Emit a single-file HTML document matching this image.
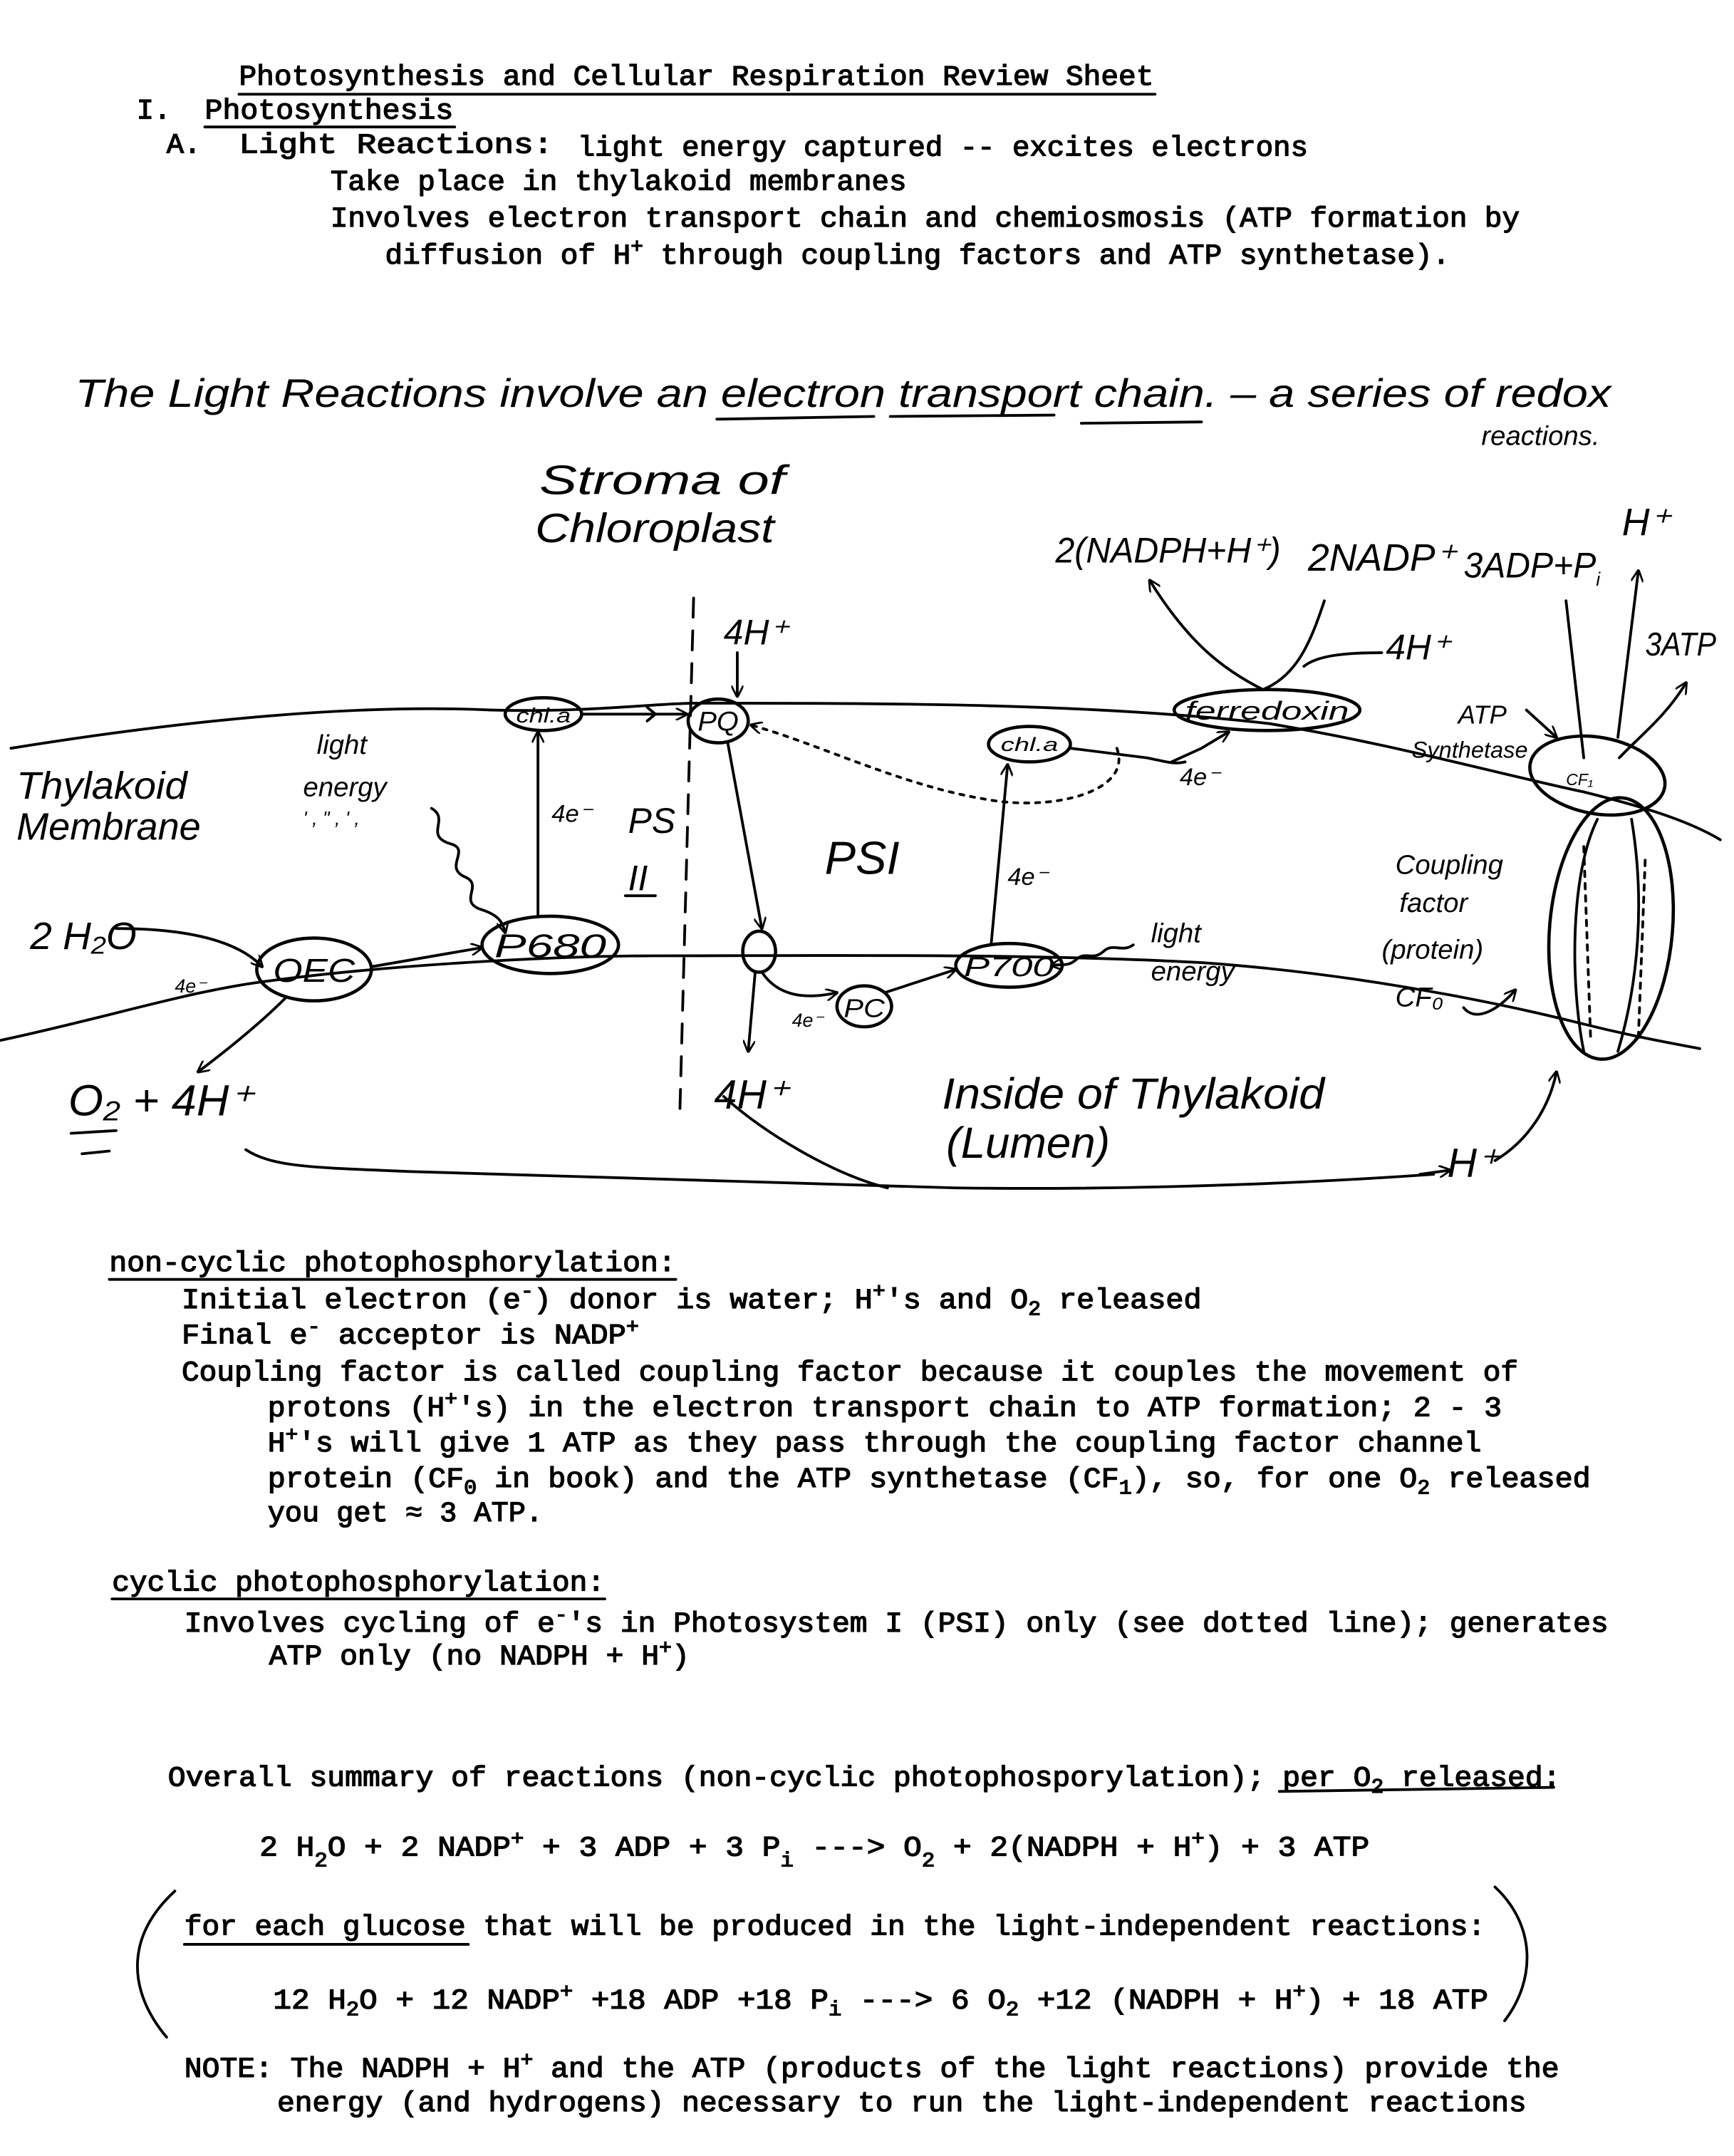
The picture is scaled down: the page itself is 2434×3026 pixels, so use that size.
<!DOCTYPE html>
<html><head><meta charset="utf-8"><style>
html,body{margin:0;padding:0;background:#fff}
svg{display:block}
.t{font-family:"Liberation Mono",monospace;font-size:21px;fill:#000;stroke:#000;stroke-width:0.7}
.h{font-family:"Liberation Sans",sans-serif;fill:#000;font-style:italic}
.l{fill:none;stroke:#000;stroke-width:2;stroke-linecap:round}
.n{fill:none;stroke:#000;stroke-width:2.4}
</style></head><body>
<svg width="2434" height="3026" viewBox="0 0 1270 1579" xmlns="http://www.w3.org/2000/svg">
<defs><marker id="a" viewBox="0 0 10 10" refX="9" refY="5" markerWidth="9" markerHeight="9" orient="auto" markerUnits="userSpaceOnUse"><path d="M0,0 L10,5 L0,10" fill="none" stroke="#000" stroke-width="1.6"/></marker></defs>

<text class="t" x="175" y="62" textLength="670" lengthAdjust="spacingAndGlyphs">Photosynthesis and Cellular Respiration Review Sheet</text>
<line class="l" x1="175" y1="69" x2="846" y2="69" stroke-width="1.6"/>
<text class="t" x="100" y="87">I.</text>
<text class="t" x="150" y="87" textLength="182" lengthAdjust="spacingAndGlyphs">Photosynthesis</text>
<line class="l" x1="150" y1="93" x2="333" y2="93" stroke-width="1.6"/>
<text class="t" x="122" y="112">A.</text>
<text class="t" x="175" y="112" textLength="230" lengthAdjust="spacingAndGlyphs">Light Reactions:</text>
<text class="t" x="423" y="114" textLength="535" lengthAdjust="spacingAndGlyphs">light energy captured -- excites electrons</text>
<text class="t" x="242" y="139" textLength="422" lengthAdjust="spacingAndGlyphs">Take place in thylakoid membranes</text>
<text class="t" x="242" y="166" textLength="871" lengthAdjust="spacingAndGlyphs">Involves electron transport chain and chemiosmosis (ATP formation by</text>
<text class="t" x="282" y="193" textLength="780" lengthAdjust="spacingAndGlyphs">diffusion of H<tspan font-size="15" dy="-8">+</tspan><tspan dy="8"> through coupling factors and ATP synthetase).</tspan></text>

<text class="h" x="55" y="298" font-size="29" textLength="1125" lengthAdjust="spacingAndGlyphs">The Light Reactions involve an electron transport chain. – a series of redox</text>
<path class="l" d="M525,307 L640,305 M652,305 L772,304 M792,310 L880,309"/>
<text class="h" x="1085" y="326" font-size="20">reactions.</text>
<text class="h" x="395" y="362" font-size="30" textLength="180" lengthAdjust="spacingAndGlyphs">Stroma  of</text>
<text class="h" x="392" y="397" font-size="30" textLength="175" lengthAdjust="spacingAndGlyphs">Chloroplast</text>
<text class="h" x="773" y="412" font-size="26" textLength="165" lengthAdjust="spacingAndGlyphs">2(NADPH+H⁺)</text>
<text class="h" x="958" y="418" font-size="28" textLength="108" lengthAdjust="spacingAndGlyphs">2NADP⁺</text>
<text class="h" x="1072" y="423" font-size="26" textLength="100" lengthAdjust="spacingAndGlyphs">3ADP+P<tspan font-size="14" dy="6">i</tspan></text>
<text class="h" x="1188" y="392" font-size="28">H⁺</text>
<text class="h" x="530" y="472" font-size="26">4H⁺</text>
<text class="h" x="1015" y="483" font-size="26">4H⁺</text>
<text class="h" x="1205" y="480" font-size="24" textLength="52" lengthAdjust="spacingAndGlyphs">3ATP</text>

<path class="l" stroke-width="2.6" d="M8,548 C120,530 250,515 360,520 C430,522 480,515 510,515 C650,515 800,515 930,530 C1020,545 1090,565 1160,580 C1200,590 1235,600 1260,615"/>
<path class="l" stroke-width="2.6" d="M0,762 C80,745 140,725 200,718 C300,705 420,700 480,700 C600,700 750,698 880,705 C980,712 1080,730 1160,750 C1200,760 1230,765 1245,768"/>

<line class="l" x1="508" y1="438" x2="498" y2="812" stroke-width="1.5" stroke-dasharray="14,10"/>

<ellipse class="n" cx="230" cy="710" rx="42" ry="23"/>
<ellipse class="n" cx="403" cy="692" rx="50" ry="21"/>
<ellipse class="n" cx="398" cy="523" rx="28" ry="12"/>
<ellipse class="n" cx="526" cy="528" rx="22" ry="16"/>
<ellipse class="n" cx="556" cy="697" rx="12" ry="15"/>
<ellipse class="n" cx="633" cy="737" rx="20" ry="15"/>
<ellipse class="n" cx="739" cy="707" rx="39" ry="16"/>
<ellipse class="n" cx="754" cy="545" rx="30" ry="13"/>
<ellipse class="n" cx="928" cy="520" rx="68" ry="15"/>
<ellipse class="n" cx="1170" cy="568" rx="50" ry="28" transform="rotate(10 1170 568)"/>
<ellipse class="n" cx="1180" cy="680" rx="45" ry="96" transform="rotate(5 1180 680)"/>
<path class="l" stroke-width="1.2" d="M1170,600 C1150,640 1150,720 1160,770 M1195,600 C1205,660 1200,720 1185,770"/>
<path class="l" stroke-width="1.2" stroke-dasharray="4,5" d="M1160,620 L1165,760 M1205,630 L1200,760"/>

<g class="h">
<text x="200" y="719" font-size="24" textLength="60" lengthAdjust="spacingAndGlyphs">OEC</text>
<text x="362" y="701" font-size="24" textLength="82" lengthAdjust="spacingAndGlyphs">P680</text>
<text x="378" y="529" font-size="15" textLength="40" lengthAdjust="spacingAndGlyphs">chl.a</text>
<text x="511" y="535" font-size="20" textLength="30" lengthAdjust="spacingAndGlyphs">PQ</text>
<text x="618" y="745" font-size="19" textLength="30" lengthAdjust="spacingAndGlyphs">PC</text>
<text x="706" y="715" font-size="20" textLength="66" lengthAdjust="spacingAndGlyphs">P700</text>
<text x="733" y="550" font-size="14" textLength="42" lengthAdjust="spacingAndGlyphs">chl.a</text>
<text x="868" y="527" font-size="19" textLength="120" lengthAdjust="spacingAndGlyphs">ferredoxin</text>
<text x="1147" y="575" font-size="12">CF₁</text>
</g>

<path class="l" d="M85,680 C140,680 175,690 192,708" marker-end="url(#a)"/>
<path class="l" d="M210,730 C190,750 165,770 145,785" marker-end="url(#a)"/>
<path class="l" d="M272,708 L353,694" marker-end="url(#a)"/>
<path class="l" d="M316,592 C330,600 310,612 330,618 C345,622 325,635 340,642 C355,648 335,660 352,666 C365,670 368,675 370,683" marker-end="url(#a)"/>
<line class="l" x1="394" y1="671" x2="394" y2="536" marker-end="url(#a)"/>
<line class="l" x1="427" y1="523" x2="503" y2="523" marker-end="url(#a)"/>
<path class="l" d="M480,523 l-6,-5 M480,523 l-6,5"/>
<line class="l" x1="533" y1="544" x2="558" y2="680" marker-end="url(#a)"/>
<path class="l" d="M558,712 C570,730 590,732 613,727" marker-end="url(#a)"/>
<line class="l" x1="553" y1="713" x2="548" y2="770" marker-end="url(#a)"/>
<path class="l" d="M648,727 L700,710" marker-end="url(#a)"/>
<line class="l" x1="726" y1="691" x2="738" y2="560" marker-end="url(#a)"/>
<path class="l" d="M784,548 L840,555 C855,558 860,560 868,558"/>
<path class="l" d="M858,558 L880,548 L900,536" marker-end="url(#a)"/>
<path class="l" stroke-dasharray="3,5" d="M818,548 C830,580 770,595 720,585 C660,575 600,545 550,531" marker-end="url(#a)"/>
<path class="l" d="M970,440 C960,470 950,495 925,505 C895,490 870,470 842,425" marker-end="url(#a)"/>
<path class="l" d="M955,488 C965,480 985,478 1012,478"/>
<path class="l" d="M830,692 C822,698 815,690 808,697 C800,704 795,696 788,703 C782,708 778,706 770,707" marker-end="url(#a)"/>
<line class="l" x1="540" y1="478" x2="540" y2="510" marker-end="url(#a)"/>
<path class="l" d="M1147,440 L1160,555"/>
<path class="l" d="M1186,555 C1200,540 1220,525 1235,500" marker-end="url(#a)"/>
<path class="l" d="M1185,540 L1200,418" marker-end="url(#a)"/>
<path class="l" d="M1118,520 L1140,540" marker-end="url(#a)"/>
<path class="l" d="M1072,738 C1080,748 1095,742 1110,725" marker-end="url(#a)"/>
<path class="l" d="M180,842 C200,855 230,855 300,858 C450,862 600,868 700,870 C850,872 980,865 1050,860" />
<path class="l" d="M530,803 C560,830 610,860 650,870"/>
<path class="l" d="M1095,850 C1120,835 1135,810 1140,785" marker-end="url(#a)"/>
<path class="l" d="M1040,860 L1062,857" marker-end="url(#a)"/>

<g class="h">
<text x="12" y="585" font-size="28" textLength="125" lengthAdjust="spacingAndGlyphs">Thylakoid</text>
<text x="12" y="615" font-size="28" textLength="135" lengthAdjust="spacingAndGlyphs">Membrane</text>
<text x="22" y="695" font-size="28" textLength="78" lengthAdjust="spacingAndGlyphs">2 H₂O</text>
<text x="128" y="727" font-size="14">4e⁻</text>
<text x="232" y="552" font-size="20">light</text>
<text x="222" y="583" font-size="20">energy</text>
<text x="222" y="604" font-size="14">' , " , ' ,</text>
<text x="404" y="602" font-size="18">4e⁻</text>
<text x="460" y="610" font-size="26">PS</text>
<text x="460" y="652" font-size="26">II</text>
<line class="l" x1="458" y1="656" x2="480" y2="656"/>
<text x="604" y="640" font-size="34">PSI</text>
<text x="738" y="648" font-size="18">4e⁻</text>
<text x="864" y="575" font-size="18">4e⁻</text>
<text x="580" y="752" font-size="14">4e⁻</text>
<text x="843" y="690" font-size="20">light</text>
<text x="843" y="718" font-size="20">energy</text>
<text x="1022" y="640" font-size="20">Coupling</text>
<text x="1025" y="668" font-size="20">factor</text>
<text x="1012" y="702" font-size="20">(protein)</text>
<text x="1022" y="737" font-size="20">CF₀</text>
<text x="1068" y="530" font-size="19">ATP</text>
<text x="1034" y="555" font-size="17">Synthetase</text>
<text x="50" y="817" font-size="32" textLength="135" lengthAdjust="spacingAndGlyphs">O₂ + 4H⁺</text>
<path class="l" d="M52,830 L85,828 M60,845 L80,843"/>
<text x="523" y="812" font-size="30">4H⁺</text>
<text x="690" y="812" font-size="32" textLength="280" lengthAdjust="spacingAndGlyphs">Inside of Thylakoid</text>
<text x="693" y="848" font-size="32" textLength="120" lengthAdjust="spacingAndGlyphs">(Lumen)</text>
<text x="1060" y="862" font-size="30">H⁺</text>
</g>

<text class="t" x="80" y="931" textLength="415" lengthAdjust="spacingAndGlyphs">non-cyclic photophosphorylation:</text>
<line class="l" x1="80" y1="937" x2="495" y2="937" stroke-width="1.6"/>
<text class="t" x="133" y="958" textLength="747" lengthAdjust="spacingAndGlyphs">Initial electron (e<tspan font-size="15" dy="-8">-</tspan><tspan dy="8">) donor is water; H</tspan><tspan font-size="15" dy="-8">+</tspan><tspan dy="8">'s and O</tspan><tspan font-size="15" dy="5">2</tspan><tspan dy="-5"> released</tspan></text>
<text class="t" x="133" y="984" textLength="335" lengthAdjust="spacingAndGlyphs">Final e<tspan font-size="15" dy="-8">-</tspan><tspan dy="8"> acceptor is NADP</tspan><tspan font-size="15" dy="-8">+</tspan></text>
<text class="t" x="133" y="1011" textLength="979" lengthAdjust="spacingAndGlyphs">Coupling factor is called coupling factor because it couples the movement of</text>
<text class="t" x="196" y="1037" textLength="904" lengthAdjust="spacingAndGlyphs">protons (H<tspan font-size="15" dy="-8">+</tspan><tspan dy="8">'s) in the electron transport chain to ATP formation; 2 - 3</tspan></text>
<text class="t" x="196" y="1063" textLength="889" lengthAdjust="spacingAndGlyphs">H<tspan font-size="15" dy="-8">+</tspan><tspan dy="8">'s will give 1 ATP as they pass through the coupling factor channel</tspan></text>
<text class="t" x="196" y="1089" textLength="969" lengthAdjust="spacingAndGlyphs">protein (CF<tspan font-size="15" dy="5">0</tspan><tspan dy="-5"> in book) and the ATP synthetase (CF</tspan><tspan font-size="15" dy="5">1</tspan><tspan dy="-5">), so, for one O</tspan><tspan font-size="15" dy="5">2</tspan><tspan dy="-5"> released</tspan></text>
<text class="t" x="196" y="1114">you get  ≈  3 ATP.</text>

<text class="t" x="82" y="1165" textLength="361" lengthAdjust="spacingAndGlyphs">cyclic photophosphorylation:</text>
<line class="l" x1="82" y1="1171" x2="443" y2="1171" stroke-width="1.6"/>
<text class="t" x="135" y="1195" textLength="1043" lengthAdjust="spacingAndGlyphs">Involves cycling of e<tspan font-size="15" dy="-8">-</tspan><tspan dy="8">'s in Photosystem I (PSI) only (see dotted line); generates</tspan></text>
<text class="t" x="197" y="1219" textLength="308" lengthAdjust="spacingAndGlyphs">ATP only (no NADPH + H<tspan font-size="15" dy="-8">+</tspan><tspan dy="8">)</tspan></text>

<text class="t" x="123" y="1308" textLength="1020" lengthAdjust="spacingAndGlyphs">Overall summary of reactions (non-cyclic photophosporylation); per O<tspan font-size="15" dy="5">2</tspan><tspan dy="-5"> released:</tspan></text>
<line class="l" x1="937" y1="1312" x2="1138" y2="1309" stroke-width="1.6"/>
<text class="t" x="190" y="1359" textLength="813" lengthAdjust="spacingAndGlyphs">2 H<tspan font-size="15" dy="8">2</tspan><tspan dy="-8">O + 2 NADP</tspan><tspan font-size="15" dy="-8">+</tspan><tspan dy="8"> + 3 ADP + 3 P</tspan><tspan font-size="15" dy="8">i</tspan><tspan dy="-8">  ---&gt;  O</tspan><tspan font-size="15" dy="8">2</tspan><tspan dy="-8"> + 2(NADPH + H</tspan><tspan font-size="15" dy="-8">+</tspan><tspan dy="8">) + 3 ATP</tspan></text>
<text class="t" x="135" y="1417" textLength="953" lengthAdjust="spacingAndGlyphs">for each glucose that will be produced in the light-independent reactions:</text>
<line class="l" x1="135" y1="1424" x2="343" y2="1424" stroke-width="1.6"/>
<text class="t" x="200" y="1471" textLength="890" lengthAdjust="spacingAndGlyphs">12 H<tspan font-size="15" dy="5">2</tspan><tspan dy="-5">O + 12 NADP</tspan><tspan font-size="15" dy="-8">+</tspan><tspan dy="8"> +18 ADP +18 P</tspan><tspan font-size="15" dy="5">i</tspan><tspan dy="-5"> ---&gt; 6 O</tspan><tspan font-size="15" dy="5">2</tspan><tspan dy="-5"> +12 (NADPH + H</tspan><tspan font-size="15" dy="-8">+</tspan><tspan dy="8">) + 18 ATP</tspan></text>
<path class="l" d="M128,1385 C90,1420 95,1460 122,1492"/>
<path class="l" d="M1095,1382 C1125,1410 1125,1450 1102,1480"/>
<text class="t" x="135" y="1521" textLength="1007" lengthAdjust="spacingAndGlyphs">NOTE: The NADPH + H<tspan font-size="15" dy="-8">+</tspan><tspan dy="8"> and the ATP (products of the light reactions) provide the</tspan></text>
<text class="t" x="203" y="1546" textLength="915" lengthAdjust="spacingAndGlyphs">energy (and hydrogens) necessary to run the light-independent reactions</text>
</svg>
</body></html>
